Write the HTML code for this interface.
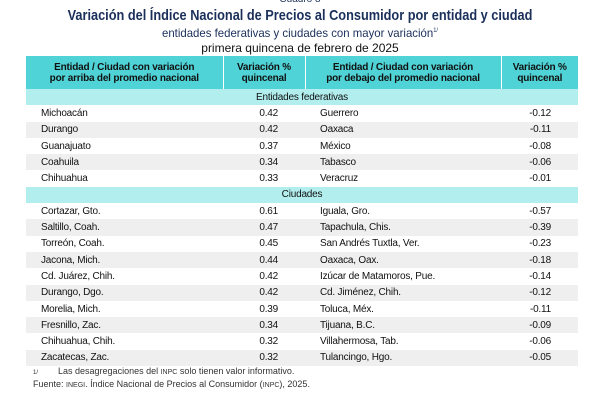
<!DOCTYPE html>
<html><head><meta charset="utf-8"><style>
body{margin:0;width:600px;height:400px;background:#fff;font-family:"Liberation Sans",sans-serif;position:relative;overflow:hidden;color:#111}
.t{position:absolute;left:0;width:600px;text-align:center;color:#1a2f5a}
table{position:absolute;left:26px;top:56px;width:552px;border-collapse:collapse;font-size:10px;letter-spacing:-0.2px}
td{padding:0;height:16.3px}
th{background:#4fd3d6;font-weight:bold;font-size:10px;height:31px;color:#111;line-height:11px;border-right:1px solid #fff}
th:last-child{border-right:none}
.sec td{background:#b2eeee;text-align:center}
.s td{background:#efefef}
.n{padding-left:15px}
.v{text-align:right;padding-right:27px}
.fn{position:absolute;left:33px;font-size:9px;color:#333}
</style></head><body>
<div class="t" style="top:-6px;font-size:10px">Cuadro 8</div>
<div class="t" style="top:7px;font-size:15px;font-weight:bold;transform:scaleX(0.85)">Variación del Índice Nacional de Precios al Consumidor por entidad y ciudad</div>
<div class="t" style="top:26px;font-size:12px;color:#1a2f5a;transform:scaleX(0.95)">entidades federativas y ciudades con mayor variación<sup style="font-size:6px">1/</sup></div>
<div class="t" style="top:41px;font-size:12px;color:#111">primera quincena de febrero de 2025</div>
<table>
<colgroup><col style="width:197px"><col style="width:82px"><col style="width:196px"><col style="width:77px"></colgroup>
<tr><th>Entidad / Ciudad con variación<br>por arriba del promedio nacional</th><th>Variación %<br>quincenal</th><th>Entidad / Ciudad con variación<br>por debajo del promedio nacional</th><th>Variación %<br>quincenal</th></tr>
<tr class="sec"><td colspan="4">Entidades federativas</td></tr>
<tr><td class="n">Michoacán</td><td class="v">0.42</td><td class="n">Guerrero</td><td class="v">-0.12</td></tr>
<tr class="s"><td class="n">Durango</td><td class="v">0.42</td><td class="n">Oaxaca</td><td class="v">-0.11</td></tr>
<tr><td class="n">Guanajuato</td><td class="v">0.37</td><td class="n">México</td><td class="v">-0.08</td></tr>
<tr class="s"><td class="n">Coahuila</td><td class="v">0.34</td><td class="n">Tabasco</td><td class="v">-0.06</td></tr>
<tr><td class="n">Chihuahua</td><td class="v">0.33</td><td class="n">Veracruz</td><td class="v">-0.01</td></tr>
<tr class="sec"><td colspan="4">Ciudades</td></tr>
<tr><td class="n">Cortazar, Gto.</td><td class="v">0.61</td><td class="n">Iguala, Gro.</td><td class="v">-0.57</td></tr>
<tr class="s"><td class="n">Saltillo, Coah.</td><td class="v">0.47</td><td class="n">Tapachula, Chis.</td><td class="v">-0.39</td></tr>
<tr><td class="n">Torreón, Coah.</td><td class="v">0.45</td><td class="n">San Andrés Tuxtla, Ver.</td><td class="v">-0.23</td></tr>
<tr class="s"><td class="n">Jacona, Mich.</td><td class="v">0.44</td><td class="n">Oaxaca, Oax.</td><td class="v">-0.18</td></tr>
<tr><td class="n">Cd. Juárez, Chih.</td><td class="v">0.42</td><td class="n">Izúcar de Matamoros, Pue.</td><td class="v">-0.14</td></tr>
<tr class="s"><td class="n">Durango, Dgo.</td><td class="v">0.42</td><td class="n">Cd. Jiménez, Chih.</td><td class="v">-0.12</td></tr>
<tr><td class="n">Morelia, Mich.</td><td class="v">0.39</td><td class="n">Toluca, Méx.</td><td class="v">-0.11</td></tr>
<tr class="s"><td class="n">Fresnillo, Zac.</td><td class="v">0.34</td><td class="n">Tijuana, B.C.</td><td class="v">-0.09</td></tr>
<tr><td class="n">Chihuahua, Chih.</td><td class="v">0.32</td><td class="n">Villahermosa, Tab.</td><td class="v">-0.06</td></tr>
<tr class="s"><td class="n">Zacatecas, Zac.</td><td class="v">0.32</td><td class="n">Tulancingo, Hgo.</td><td class="v">-0.05</td></tr>
</table>
<div class="fn" style="top:366px"><span style="font-size:6px">1/</span>&nbsp;&nbsp;&nbsp;&nbsp;&nbsp;&nbsp;&nbsp;&nbsp;Las desagregaciones del <span style="font-size:7px">INPC</span> solo tienen valor informativo.</div>
<div class="fn" style="top:379px">Fuente: <span style="font-size:7px">INEGI</span>. Índice Nacional de Precios al Consumidor (<span style="font-size:7px">INPC</span>), 2025.</div>
</body></html>
